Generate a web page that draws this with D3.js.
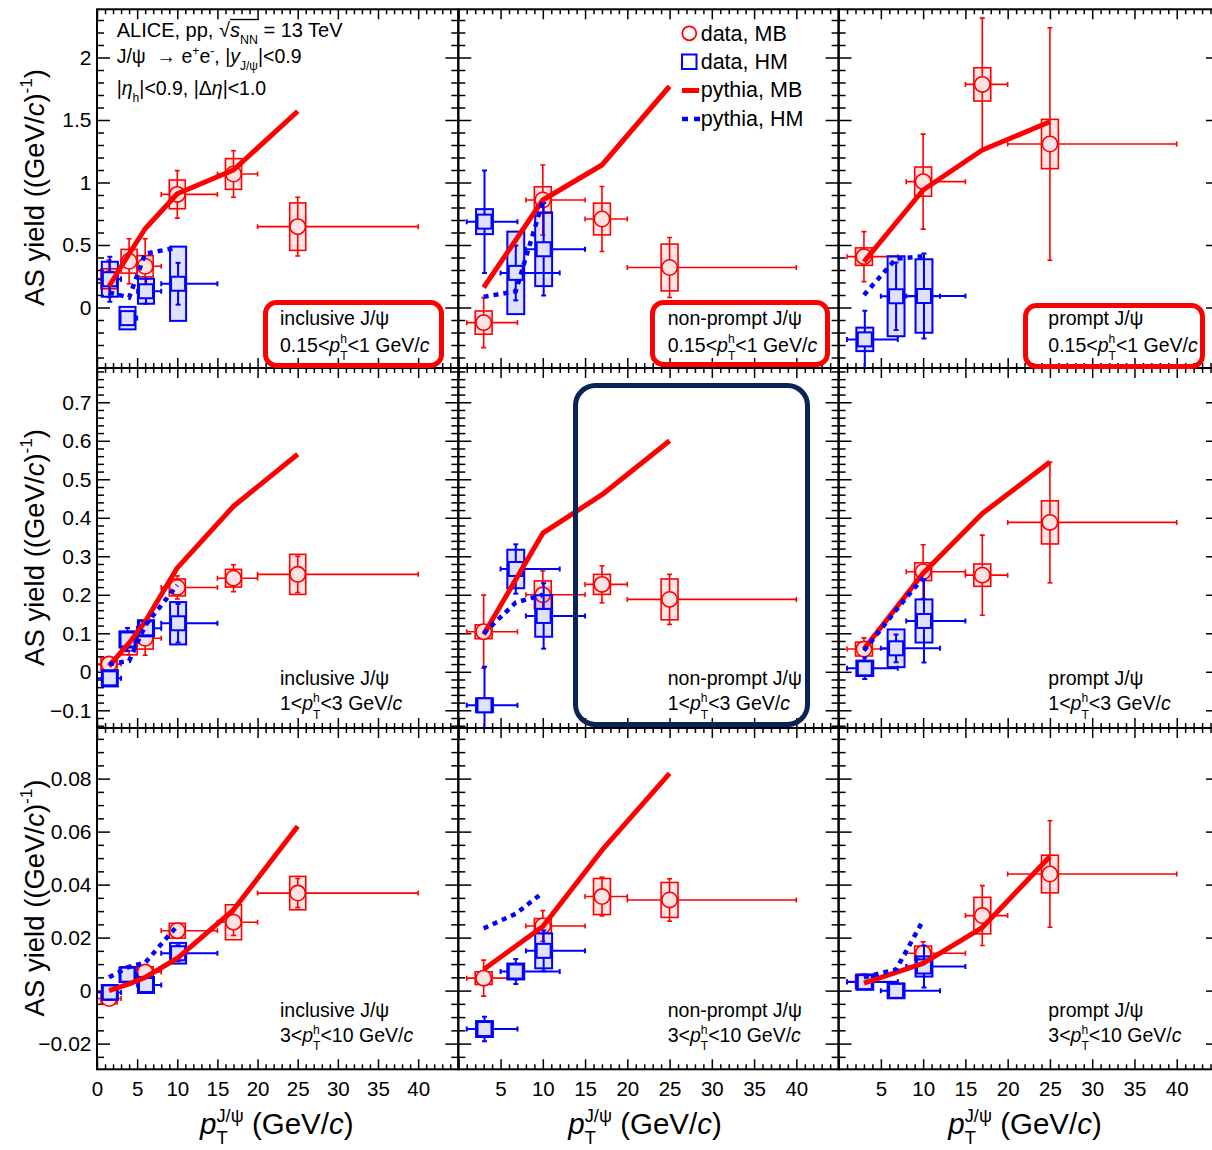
<!DOCTYPE html>
<html>
<head>
<meta charset="utf-8">
<script src="https://cdn.jsdelivr.net/npm/d3@7"></script>
<style>
  body { margin: 0; background: #fff; }
  svg { display: block; }
  text { font-family: "Liberation Sans", Arial, Helvetica, sans-serif; white-space: pre; fill: #000; }
</style>
</head>
<body>
<svg id="chart" width="1212" height="1150"></svg>
<script>
// ---------------- data ----------------
// panel order: rows = hadron pT range, columns = J/psi species
const species = ["inclusive J/ψ", "non-prompt J/ψ", "prompt J/ψ"];
const hadronRanges = [["0.15", "1"], ["1", "3"], ["3", "10"]];

// J/psi pT bins (GeV/c): mean position and bin edges
const ptMBIncl   = [1.5, 4, 6, 10, 17, 25];
const ptMBInclLo = [0, 3, 5, 8, 15, 20];
const ptMBInclHi = [3, 5, 8, 15, 20, 40];
const ptMBSep    = [3, 10, 17, 25];
const ptMBSepLo  = [1, 8, 15, 20];
const ptMBSepHi  = [7, 15, 20, 40];
const ptHMIncl   = [1.6, 3.8, 6.1, 10.1];
const ptHMInclLo = [0, 3, 5, 8];
const ptHMInclHi = [3, 5, 8, 15];
const ptHMSep    = [3.1, 6.8, 10.1];
const ptHMSepLo  = [1, 5, 8];
const ptHMSepHi  = [7, 12, 15];
const ptPyMBIncl = [1.5, 4, 6, 10, 17, 25];
const ptPyHMIncl = [1.5, 4, 6, 10];
const ptPyMBSep  = [3, 10, 17, 25];
const ptPyHMSep  = [3, 6.8, 10];

// away-side yields, minimum bias data
const mbYield = [
  [0.23, 0.37, 0.33, 0.905, 1.068, 0.647],
  [-0.121, 0.86, 0.708, 0.32],
  [0.407, 1.007, 1.785, 1.308],
  [0.02, 0.074, 0.087, 0.219, 0.243, 0.253],
  [0.104, 0.2, 0.227, 0.188],
  [0.059, 0.26, 0.251, 0.388],
  [-0.003, 0.0065, 0.007, 0.0226, 0.0258, 0.0368],
  [0.0047, 0.0244, 0.0355, 0.0342],
  [0.0034, 0.0141, 0.0283, 0.044]
];
const mbStat = [
  [0.15, 0.18, 0.22, 0.19, 0.186, 0.235],
  [0.2, 0.28, 0.26, 0.24],
  [0.2, 0.38, 0.53, 0.93],
  [0.01, 0.03, 0.044, 0.03, 0.035, 0.047],
  [0.095, 0.062, 0.048, 0.065],
  [0.029, 0.07, 0.104, 0.157],
  [0.0015, 0.002, 0.002, 0.002, 0.005, 0.0055],
  [0.0068, 0.0058, 0.0073, 0.008],
  [0.0015, 0.0043, 0.0113, 0.0201]
];
const mbSyst = [
  [0.08, 0.095, 0.085, 0.115, 0.123, 0.19],
  [0.093, 0.106, 0.127, 0.187],
  [0.07, 0.117, 0.133, 0.197],
  [0.016, 0.03, 0.028, 0.022, 0.023, 0.052],
  [0.018, 0.036, 0.026, 0.053],
  [0.018, 0.023, 0.029, 0.056],
  [0.002, 0.0025, 0.002, 0.0028, 0.0066, 0.0063],
  [0.0024, 0.0028, 0.0068, 0.0066],
  [0.0025, 0.0027, 0.0069, 0.0071]
];

// away-side yields, high multiplicity data
const hmYield = [
  [0.226, -0.085, 0.13, 0.19],
  [0.687, 0.277, 0.466],
  [-0.255, 0.09, 0.092],
  [-0.017, 0.084, 0.113, 0.126],
  [-0.087, 0.267, 0.145],
  [0.009, 0.061, 0.132],
  [-0.0007, 0.006, 0.0021, 0.0141],
  [-0.0145, 0.0072, 0.015],
  [0.0032, -0.0001, 0.0091]
];
const hmStat = [
  [0.18, 0.05, 0.1, 0.167],
  [0.41, 0.22, 0.37],
  [0.23, 0.27, 0.34],
  [0.012, 0.03, 0.015, 0.05],
  [0.1, 0.064, 0.085],
  [0.028, 0.036, 0.108],
  [0.0015, 0.002, 0.002, 0.003],
  [0.0046, 0.0047, 0.0077],
  [0.0015, 0.0015, 0.0079]
];
const hmSyst = [
  [0.14, 0.09, 0.1, 0.297],
  [0.1, 0.33, 0.295],
  [0.094, 0.32, 0.294],
  [0.021, 0.021, 0.021, 0.055],
  [0.018, 0.05, 0.054],
  [0.02, 0.049, 0.056],
  [0.0028, 0.0028, 0.003, 0.0039],
  [0.003, 0.003, 0.0066],
  [0.0029, 0.0028, 0.0038]
];

// PYTHIA predictions
const pyMB = [
  [0.17, 0.43, 0.63, 0.91, 1.1, 1.57],
  [0.16, 0.86, 1.14, 1.77],
  [0.366, 0.94, 1.26, 1.486],
  [0.015, 0.075, 0.13, 0.27, 0.43, 0.565],
  [0.097, 0.36, 0.46, 0.60],
  [0.059, 0.256, 0.411, 0.545],
  [0.0, 0.0025, 0.005, 0.0122, 0.0305, 0.062],
  [0.008, 0.0242, 0.053, 0.082],
  [0.0028, 0.0103, 0.0238, 0.0506]
];
const pyHM = [
  [0.12, 0.08, 0.43, 0.48],
  [0.085, 0.13, 0.85],
  [0.1, 0.39, 0.41],
  [0.02, 0.028, 0.12, 0.225],
  [0.1, 0.18, 0.2],
  [0.055, 0.16, 0.245],
  [0.005, 0.009, 0.0105, 0.0245],
  [0.0235, 0.029, 0.037],
  [0.005, 0.008, 0.0265]
];

// axis ticks
const yTickLabels = [
  [0, 0.5, 1, 1.5, 2],
  [-0.1, 0, 0.1, 0.2, 0.3, 0.4, 0.5, 0.6, 0.7],
  [-0.02, 0, 0.02, 0.04, 0.06, 0.08]
];
const yMinorStep = [0.1, 0.02, 0.005];
const xTickLabels = [0, 5, 10, 15, 20, 25, 30, 35, 40];

// ---------------- layout ----------------
const colX = [[97, 458.3], [458.3, 838.6], [838.6, 1219]];
const rowY = [[9.3, 368], [368, 728], [728, 1069.3]];
const yDom = [[-0.484, 2.3856], [-0.146, 0.789], [-0.0297, 0.0991]];
const RED = "#ff0000", BLUE = "#0000ff";

const svg = d3.select("#chart");
const defs = svg.append("defs");

// text with italic pieces, sub/superscripts and stacked indices
function rich(parent, x, y, fs, parts, stackSub) {
  const g = parent.append("g");
  const subOff = stackSub === undefined ? 0.45 : stackSub;
  let cx = x, overX = null;
  const put = (t, px, py, size, it) => {
    const el = g.append("text").attr("x", px).attr("y", py).attr("font-size", size).text(t);
    if (it) el.attr("font-style", "italic");
    return el.node().getComputedTextLength();
  };
  for (const raw of parts) {
    const p = typeof raw === "string" ? { t: raw } : raw;
    if (p.overStart) { overX = cx; continue; }
    if (p.overEnd) {
      g.append("line").attr("x1", overX).attr("x2", cx + 1)
        .attr("y1", y - fs * 0.86).attr("y2", y - fs * 0.86)
        .attr("stroke", "#000").attr("stroke-width", 1.4);
      continue;
    }
    if (p.stack) {
      const w1 = put(p.stack[0], cx, y - fs * 0.42, fs * 0.62, false);
      const w2 = put(p.stack[1], cx, y + fs * subOff, fs * 0.62, false);
      cx += Math.max(w1, w2);
    } else if (p.sup !== undefined) {
      cx += put(p.sup, cx, y - fs * 0.42, fs * 0.62, p.it);
    } else if (p.sub !== undefined) {
      cx += put(p.sub, cx, y + fs * 0.35, fs * 0.62, p.it);
    } else {
      cx += put(p.t, cx, y, fs, p.it);
    }
  }
  return { g, width: cx - x };
}

const fmt = v => String(v).replace("-", "\u2212");

function tickAxis(g, axisFn, scale, values, len, fmtFn, pad) {
  const ax = axisFn(scale).tickValues(values).tickSizeInner(-len).tickSizeOuter(0)
    .tickPadding(pad || 0).tickFormat(fmtFn || (() => ""));
  const a = g.append("g").call(ax);
  a.select(".domain").remove();
  a.selectAll("line").attr("stroke", "#000").attr("stroke-width", 1.5);
  a.selectAll("text").attr("fill", "#000").attr("font-family", null);
  return a;
}

const xMajors = d3.range(0, 46, 5);
const xMinors = d3.range(0, 46, 1).filter(v => v % 5 !== 0);

for (let r = 0; r < 3; r++) {
  for (let c = 0; c < 3; c++) {
    const p = r * 3 + c;
    const [x0, x1] = colX[c];
    const [y0, y1] = rowY[r];
    const x = d3.scaleLinear().domain([0, 45]).range([x0, x1]);
    const y = d3.scaleLinear().domain(yDom[r]).range([y1, y0]);
    const g = svg.append("g");

    const clipId = "clip" + p;
    defs.append("clipPath").attr("id", clipId).append("rect")
      .attr("x", x0).attr("y", y0).attr("width", x1 - x0).attr("height", y1 - y0);

    // ticks on all four sides, pointing inward
    const step = yMinorStep[r];
    const yMin = d3.range(Math.ceil(yDom[r][0] / step - 1e-6), Math.floor(yDom[r][1] / step + 1e-6) + 1)
      .map(i => +(i * step).toFixed(6)).filter(v => !yTickLabels[r].some(m => Math.abs(m - v) < 1e-9));
    const gl = g.append("g").attr("transform", `translate(${x0},0)`);
    tickAxis(gl, d3.axisLeft, y, yMin, 7);
    tickAxis(gl, d3.axisLeft, y, yTickLabels[r], 13);
    const gr = g.append("g").attr("transform", `translate(${x1},0)`);
    tickAxis(gr, d3.axisRight, y, yMin, 7);
    tickAxis(gr, d3.axisRight, y, yTickLabels[r], 13);
    const gb = g.append("g").attr("transform", `translate(0,${y1})`);
    tickAxis(gb, d3.axisBottom, x, xMinors, 5);
    tickAxis(gb, d3.axisBottom, x, xMajors, 10);
    const gt = g.append("g").attr("transform", `translate(0,${y0})`);
    tickAxis(gt, d3.axisTop, x, xMinors, 5);
    tickAxis(gt, d3.axisTop, x, xMajors, 10);

    if (c === 0) {
      const a = g.append("g").attr("transform", `translate(${x0},0)`)
        .call(d3.axisLeft(y).tickValues(yTickLabels[r]).tickSize(0).tickPadding(5.5).tickFormat(fmt));
      a.select(".domain").remove();
      a.selectAll("text").attr("font-size", 21).attr("font-family", null).attr("fill", "#000");
    }
    if (r === 2) {
      const vals = c === 0 ? xTickLabels : xTickLabels.filter(v => v > 0);
      const a = g.append("g").attr("transform", `translate(0,${y1})`)
        .call(d3.axisBottom(x).tickValues(vals).tickSize(0).tickPadding(12.5).tickFormat(fmt));
      a.select(".domain").remove();
      a.selectAll("text").attr("font-size", 20.5).attr("font-family", null).attr("fill", "#000");
    }

    // data layer
    const d = g.append("g").attr("clip-path", `url(#${clipId})`);
    const incl = c === 0;

    function drawSeries(xs, lo, hi, vals, stat, syst, color, boxFill, markerFill, square, sw) {
      const pts = vals.map((v, i) => ({ x: xs[i], lo: lo[i], hi: hi[i], v, s: stat[i], e: syst[i] }));
      d.append("g").selectAll("rect").data(pts).join("rect")
        .attr("x", q => x(q.x - 1)).attr("width", q => x(q.x + 1) - x(q.x - 1))
        .attr("y", q => y(q.v + q.e)).attr("height", q => y(q.v - q.e) - y(q.v + q.e))
        .attr("fill", boxFill).attr("stroke", color).attr("stroke-width", sw);
      const eb = d.append("g").attr("stroke", color).attr("stroke-width", sw);
      pts.forEach(q => {
        eb.append("line").attr("x1", x(q.x)).attr("x2", x(q.x)).attr("y1", y(q.v - q.s)).attr("y2", y(q.v + q.s));
        eb.append("line").attr("x1", x(q.lo)).attr("x2", x(q.hi)).attr("y1", y(q.v)).attr("y2", y(q.v));
        [q.v - q.s, q.v + q.s].forEach(vv => eb.append("line")
          .attr("x1", x(q.x) - 2.5).attr("x2", x(q.x) + 2.5).attr("y1", y(vv)).attr("y2", y(vv)));
        [q.lo, q.hi].forEach(xx => eb.append("line")
          .attr("x1", x(xx)).attr("x2", x(xx)).attr("y1", y(q.v) - 2.5).attr("y2", y(q.v) + 2.5));
      });
      if (square) {
        d.append("g").selectAll("rect").data(pts).join("rect")
          .attr("x", q => x(q.x) - 7).attr("y", q => y(q.v) - 7).attr("width", 14).attr("height", 14)
          .attr("fill", markerFill).attr("stroke", color).attr("stroke-width", 2);
      } else {
        d.append("g").selectAll("circle").data(pts).join("circle")
          .attr("cx", q => x(q.x)).attr("cy", q => y(q.v)).attr("r", 7.7)
          .attr("fill", markerFill).attr("stroke", color).attr("stroke-width", 1.6);
      }
    }

    drawSeries(incl ? ptMBIncl : ptMBSep, incl ? ptMBInclLo : ptMBSepLo, incl ? ptMBInclHi : ptMBSepHi,
      mbYield[p], mbStat[p], mbSyst[p], RED, "rgba(255,0,0,0.10)", "#fde3e3", false, 1.6);
    drawSeries(incl ? ptHMIncl : ptHMSep, incl ? ptHMInclLo : ptHMSepLo, incl ? ptHMInclHi : ptHMSepHi,
      hmYield[p], hmStat[p], hmSyst[p], BLUE, "rgba(0,0,255,0.12)", "#e1e1fb", true, 2);

    const line = d3.line().x(q => x(q[0])).y(q => y(q[1]));
    const mbX = incl ? ptPyMBIncl : ptPyMBSep;
    const hmX = incl ? ptPyHMIncl : ptPyHMSep;
    d.append("path").attr("d", line(pyMB[p].map((v, i) => [mbX[i], v])))
      .attr("fill", "none").attr("stroke", RED).attr("stroke-width", 5).attr("stroke-linejoin", "round");
    d.append("path").attr("d", line(pyHM[p].map((v, i) => [hmX[i], v])))
      .attr("fill", "none").attr("stroke", BLUE).attr("stroke-width", 4.5).attr("stroke-dasharray", "5,5");

    // panel frame
    g.append("rect").attr("x", x0).attr("y", y0).attr("width", x1 - x0).attr("height", y1 - y0)
      .attr("fill", "none").attr("stroke", "#000").attr("stroke-width", 2);

    // panel labels
    const lx = [280, 667.7, 1048.3][c];
    const ly = [[324.5, 351.5], [685, 710], [1016.7, 1041.7]][r];
    rich(g, lx, ly[0], 19.5, [species[c]]);
    rich(g, lx, ly[1], 19.5, [hadronRanges[r][0] + "<", { t: "p", it: true }, { stack: ["h", "T"] },
      "<" + hadronRanges[r][1] + " GeV/", { t: "c", it: true }]);
  }
}

// y-axis titles
[187.5, 547.5, 898].forEach(cy => {
  const tg = svg.append("g");
  const t = rich(tg, 0, 0, 27.5, ["AS yield ((GeV/", { t: "c", it: true }, ")", { sup: "-1" }, ")"]);
  tg.attr("transform", `translate(43.5,${cy}) rotate(-90) translate(${-t.width / 2},0)`);
});

// x-axis titles
[200, 568.3, 948.3].forEach(px => {
  rich(svg, px, 1134, 29.5, [{ t: "p", it: true }, { stack: ["J/ψ", "T"] }, " (GeV/", { t: "c", it: true }, ")"], 0.34);
});

// system / selection text
rich(svg, 116.7, 36.7, 20, ["ALICE, pp, ", "√", { overStart: true }, { t: "s", it: true }, { sub: "NN" },
  { overEnd: true }, " = 13 TeV"]);
rich(svg, 116.7, 63.3, 19.5, ["J/ψ  ", "→", " e", { sup: "+" }, "e", { sup: "-" }, ", |", { t: "y", it: true },
  { sub: "J/ψ" }, "|<0.9"]);
rich(svg, 116.7, 95, 19.5, ["|", { t: "η", it: true }, { sub: "h" }, "|<0.9, |Δ", { t: "η", it: true }, "|<1.0"]);

// legend
const lg = svg.append("g");
lg.append("circle").attr("cx", 689.3).attr("cy", 33.3).attr("r", 7)
  .attr("fill", "#fff").attr("stroke", RED).attr("stroke-width", 1.8);
lg.append("rect").attr("x", 682).attr("y", 54.5).attr("width", 14.5).attr("height", 14.5)
  .attr("fill", "#fff").attr("stroke", BLUE).attr("stroke-width", 2);
lg.append("line").attr("x1", 682).attr("x2", 699).attr("y1", 90.5).attr("y2", 90.5)
  .attr("stroke", RED).attr("stroke-width", 5);
lg.append("line").attr("x1", 682).attr("x2", 700).attr("y1", 119).attr("y2", 119)
  .attr("stroke", BLUE).attr("stroke-width", 4.5).attr("stroke-dasharray", "6,6");
["data, MB", "data, HM", "pythia, MB", "pythia, HM"].forEach((t, i) => {
  lg.append("text").attr("x", 700.7).attr("y", [40.5, 68.5, 97, 125.5][i]).attr("font-size", 21.5).text(t);
});

// highlight frames
const hl = svg.append("g").attr("fill", "none");
[[265.5, 302.5, 176, 63], [652.5, 302.5, 175, 62], [1025.5, 305.5, 177, 61]].forEach(b => {
  hl.append("rect").attr("x", b[0]).attr("y", b[1]).attr("width", b[2]).attr("height", b[3])
    .attr("rx", 11).attr("stroke", RED).attr("stroke-width", 5);
});
hl.append("rect").attr("x", 575.5).attr("y", 385.5).attr("width", 232).attr("height", 339)
  .attr("rx", 20).attr("stroke", "#0b2357").attr("stroke-width", 5);
</script>
</body>
</html>
